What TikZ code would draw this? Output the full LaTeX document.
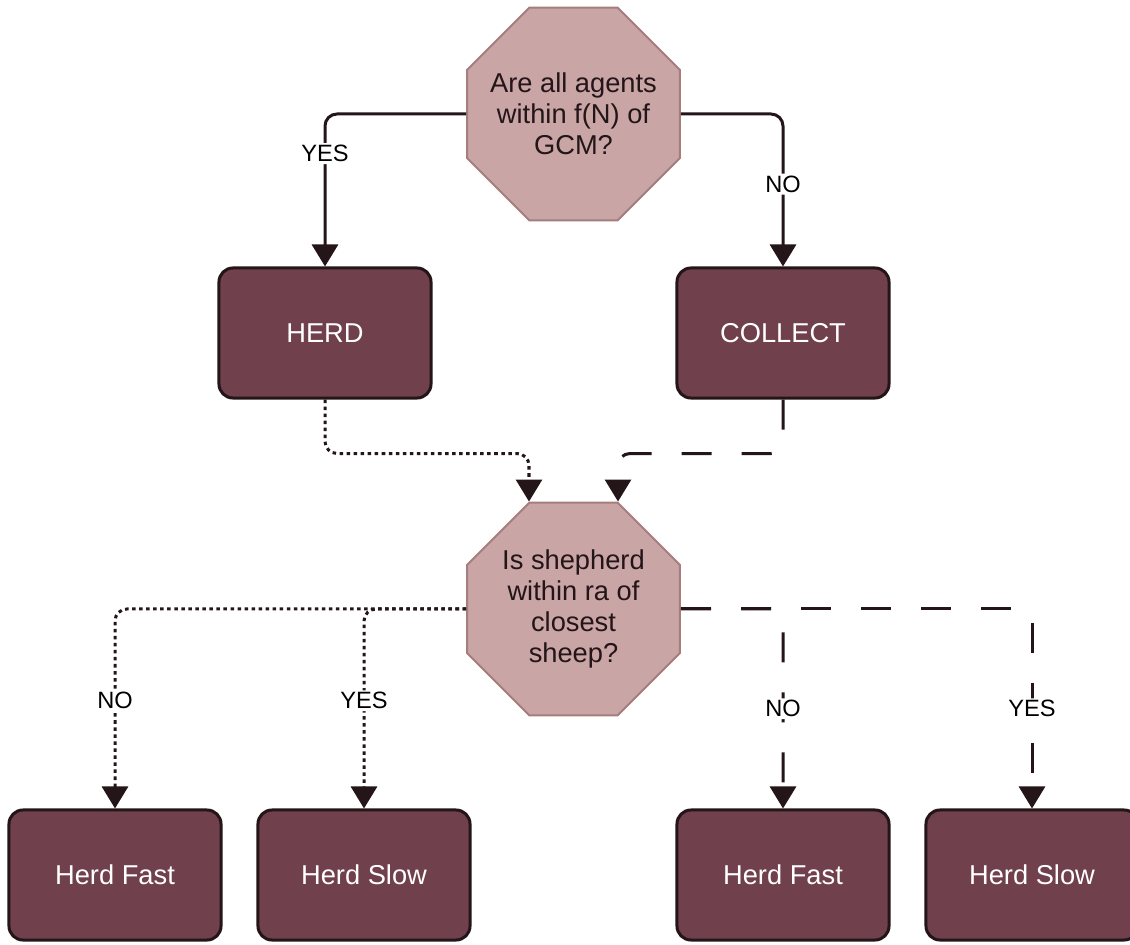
\documentclass[tikz,border=0pt]{standalone}
\usepackage{fontspec}
\setmainfont{Liberation Sans}
\usetikzlibrary{arrows.meta,shapes.geometric}
\definecolor{Maroon}{HTML}{70404C}
\definecolor{Rose}{HTML}{C9A5A5}
\definecolor{RoseEdge}{HTML}{A57D7D}
\definecolor{Ink}{HTML}{231518}

\begin{document}
\begin{tikzpicture}[x=0.025cm, y=-0.025cm,
    box/.style={draw=Ink, line width=0.075cm, fill=Maroon, text=white, rounded corners=0.35cm,
                minimum width=5.3cm, minimum height=3.25cm, font=\fontsize{19.4}{22}\selectfont},
    octo/.style={regular polygon, regular polygon sides=8, minimum size=5.76cm, inner sep=-8pt,
                 draw=RoseEdge, line width=0.05cm, fill=Rose, text=Ink, align=center,
                 font=\fontsize{19.4}{22}\selectfont},
    lbl/.style={fill=white, inner sep=1.5pt, text=black, font=\fontsize{16.8}{18}\selectfont},
    flow/.style={draw=Ink, line width=0.075cm, rounded corners=0.3cm,
                 -{Triangle[length=0.55cm,width=0.65cm]}},
    dotflow/.style={flow, dash pattern=on 2.5pt off 2.5pt},
    dashflow/.style={flow, dash pattern=on 0.75cm off 0.75cm}
  ]
  \useasboundingbox (0,0) rectangle (1130,945);

  \node[octo] (q1) at (573.5,114) {Are all agents\\within f(N) of\\GCM?};
  \node[box] (herd) at (325,333) {HERD};
  \node[box] (collect) at (783,333) {COLLECT};
  \node[octo] (q2) at (573.5,609) {Is shepherd\\within ra of\\closest\\sheep?};
  \node[box] (fastL) at (115,875) {Herd Fast};
  \node[box] (slowL) at (364,875) {Herd Slow};
  \node[box] (fastR) at (783,875) {Herd Fast};
  \node[box] (slowR) at (1032,875) {Herd Slow};

  % first question
  \draw[flow] (q1.west) -| node[lbl, pos=0.63] {YES} (herd.north);
  \draw[flow] (q1.east) -| node[lbl, pos=0.73] {NO} (collect.north);

  % both behaviours feed the second question
  \draw[dotflow] (herd.south) -- ++(0,54) -| (q2.corner 2);
  \draw[dashflow] (collect.south) -- ++(0,54) -| (q2.corner 1);

  % second question
  \draw[dotflow] (q2.west) -| node[lbl, pos=0.73] {NO} (fastL.north);
  \draw[dotflow] (q2.west) -| node[lbl, pos=0.73] {YES} (slowL.north);
  \draw[dashflow] (q2.east) -| node[lbl, pos=0.75] {NO} (fastR.north);
  \draw[dashflow] (q2.east) -| node[lbl, pos=0.75] {YES} (slowR.north);
\end{tikzpicture}
\end{document}
